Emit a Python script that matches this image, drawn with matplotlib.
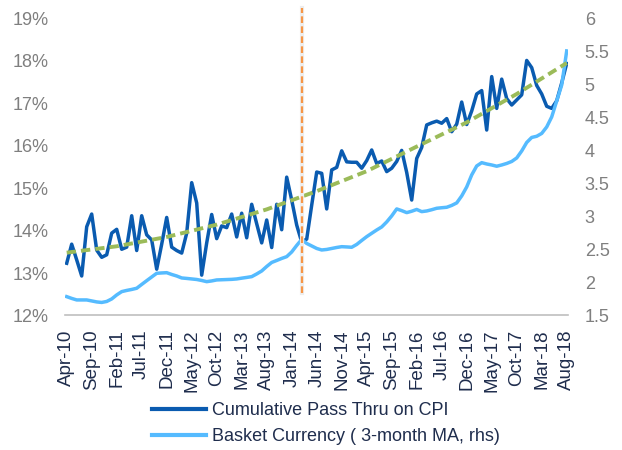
import matplotlib
matplotlib.use("Agg")
import matplotlib.pyplot as plt
import numpy as np

plt.rcParams['font.family'] = ['Liberation Sans', 'DejaVu Sans']

# monthly, Apr-10 .. Aug-18
pass_thru = [13.23, 13.68, 13.31, 12.93, 14.09, 14.39, 13.54, 13.37, 13.43, 13.94,
             14.03, 13.56, 13.61, 14.35, 13.53, 14.35, 13.90, 13.78, 13.09, 13.68,
             14.31, 13.61, 13.53, 13.47, 13.94, 15.13, 14.65, 12.95, 13.71, 14.38,
             13.81, 14.11, 14.07, 14.39, 13.85, 14.41, 13.83, 14.62, 14.16, 13.71,
             14.25, 13.60, 14.62, 14.02, 15.26, 14.72, 14.13, 13.73, 13.80, 14.60,
             15.38, 15.35, 14.51, 15.43, 15.49, 15.88, 15.62, 15.61, 15.61, 15.47,
             15.65, 15.90, 15.58, 15.64, 15.39, 15.47, 15.63, 15.89, 15.37, 14.72,
             15.70, 15.96, 16.49, 16.54, 16.58, 16.53, 16.64, 16.33, 16.51, 17.03,
             16.50, 16.82, 17.22, 17.30, 16.37, 17.63, 16.88, 17.57, 17.11, 16.96,
             17.08, 17.20, 18.01, 17.84, 17.42, 17.22, 16.93, 16.88, 17.06, 17.48,
             17.94]

basket = [1.785, 1.758, 1.735, 1.735, 1.735, 1.720, 1.705, 1.697, 1.712, 1.750,
          1.811, 1.861, 1.879, 1.894, 1.912, 1.970, 2.027, 2.083, 2.139, 2.144,
          2.148, 2.121, 2.098, 2.068, 2.061, 2.053, 2.045, 2.030, 2.012, 2.023,
          2.038, 2.041, 2.044, 2.047, 2.053, 2.065, 2.076, 2.088, 2.129, 2.174,
          2.242, 2.303, 2.333, 2.364, 2.391, 2.462, 2.561, 2.652, 2.591, 2.553,
          2.515, 2.492, 2.500, 2.515, 2.530, 2.542, 2.538, 2.533, 2.576, 2.636,
          2.694, 2.745, 2.795, 2.841, 2.917, 3.008, 3.114, 3.088, 3.058, 3.079,
          3.106, 3.073, 3.083, 3.102, 3.124, 3.132, 3.139, 3.167, 3.205, 3.311,
          3.447, 3.629, 3.765, 3.815, 3.795, 3.780, 3.761, 3.780, 3.803, 3.833,
          3.886, 3.992, 4.121, 4.197, 4.215, 4.258, 4.356, 4.508, 4.750, 4.992,
          5.508]

# trend curve on pass thru, read every 10 months
trend_x = [0, 10, 20, 30, 40, 50, 60, 70, 80, 90, 100]
trend_y = [13.48, 13.63, 13.85, 14.14, 14.50, 14.93, 15.40, 15.98, 16.55, 17.22, 17.95]
break_month = 47  # Mar-14

tick_labels = ["Apr-10", "Sep-10", "Feb-11", "Jul-11", "Dec-11", "May-12", "Oct-12",
               "Mar-13", "Aug-13", "Jan-14", "Jun-14", "Nov-14", "Apr-15", "Sep-15",
               "Feb-16", "Jul-16", "Dec-16", "May-17", "Oct-17", "Mar-18", "Aug-18"]

x = np.arange(len(pass_thru))

navy = "#1F2D4D"
grey = "#7F7F7F"

fig = plt.figure(figsize=(6.22, 4.5), dpi=100)
ax = fig.add_axes([0.1045, 0.299, 0.8087, 0.66])
ax2 = ax.twinx()

l1, = ax.plot(x, pass_thru, color="#0A5BB0", lw=2.5, solid_joinstyle="round")
l2, = ax2.plot(x, basket, color="#55BBFF", lw=2.5, solid_joinstyle="round")
ax2.plot(trend_x, trend_y, color="#9BBB59", lw=2.8, dashes=(2.4, 1.3),
         transform=ax.transData)
ax2.axvline(break_month, ymin=0.076, ymax=1.035, color="#EDEDED", lw=3, clip_on=False)
ax2.axvline(break_month, ymin=0.076, ymax=1.035, color="#F79646", lw=1.6,
            dashes=(3.0, 1.5), clip_on=False)

ax.set_xlim(-0.34, 100.26)
ax.set_ylim(12, 19)
ax2.set_ylim(1.5, 6)
ax.set_yticks(np.arange(12, 20, 1))
ax.set_yticklabels([f"{v}%" for v in range(12, 20)])
ax2.set_yticks(np.arange(1.5, 6.01, 0.5))
ax2.set_yticklabels([f"{v:g}" for v in np.arange(1.5, 6.01, 0.5)])
ax.set_xticks(x[::5])
ax.set_xticklabels(tick_labels, rotation=90)

for a in (ax, ax2):
    for s in ("left", "right", "top", "bottom"):
        a.spines[s].set_visible(False)
ax.spines["bottom"].set_visible(True)
ax.spines["bottom"].set_color("#BFBFBF")
ax.spines["bottom"].set_linewidth(1.2)

ax.tick_params(axis="y", length=0, pad=12, labelsize=13, labelcolor=grey)
ax2.tick_params(axis="y", length=0, pad=12, labelsize=13, labelcolor=grey)
ax.tick_params(axis="x", length=0, pad=10, labelsize=13.5, labelcolor=navy)

leg = fig.legend([l1, l2], ["Cumulative Pass Thru on CPI", "Basket Currency ( 3-month MA, rhs)"],
                 loc="center left", bbox_to_anchor=(0.2444, 0.0589), frameon=False,
                 fontsize=13, handlelength=3.0, handletextpad=0.3, labelspacing=0.5,
                 borderpad=0, borderaxespad=0)
for t in leg.get_texts():
    t.set_color(navy)
for h in leg.get_lines():
    h.set_linewidth(3)

plt.savefig("out.png", dpi=100)
